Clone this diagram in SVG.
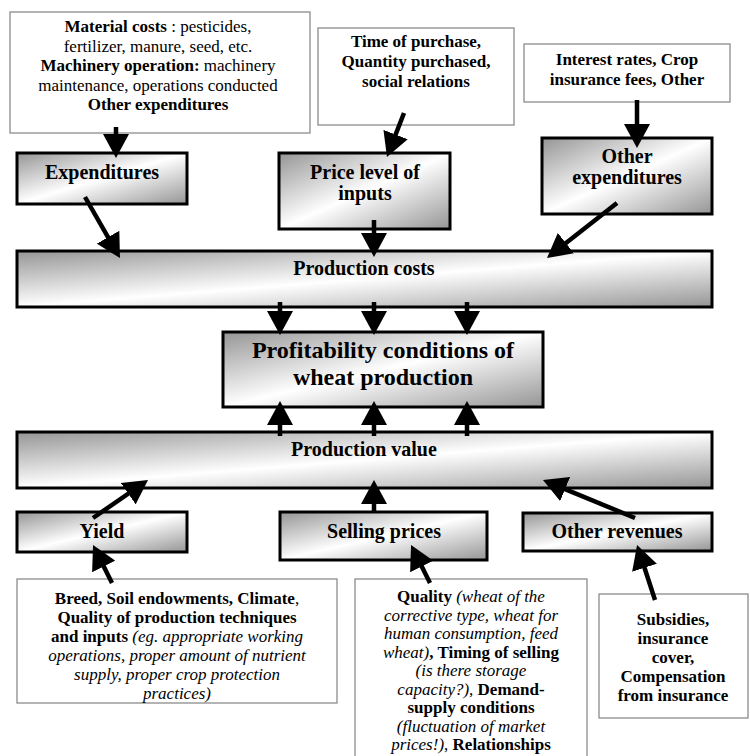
<svg xmlns="http://www.w3.org/2000/svg" width="750" height="756" viewBox="0 0 750 756">
<defs>
<linearGradient id="g" x1="0" y1="0" x2="1" y2="1">
<stop offset="0" stop-color="#959595"/>
<stop offset="0.5" stop-color="#ffffff"/>
<stop offset="1" stop-color="#959595"/>
</linearGradient>
<marker id="ah" markerUnits="userSpaceOnUse" viewBox="0 0 24 26" markerWidth="24" markerHeight="26" refX="10" refY="13" orient="auto">
<path d="M0,0 L24,13 L0,26 z" fill="#000"/>
</marker>
<style>
.box{fill:url(#g);stroke:#000;stroke-width:3}
.note{fill:#fff;stroke:#8c8c8c;stroke-width:1.3}
text{font-family:"Liberation Serif","Times New Roman",serif;text-anchor:middle;fill:#000}
.lbl{font-weight:bold;font-size:20px}
.big{font-weight:bold;font-size:24px}
.t{font-size:17px}
.b{font-weight:bold}
.i{font-style:italic}
.cn line{stroke:#000;stroke-width:4.5;marker-end:url(#ah)}
</style>
</defs>
<rect width="750" height="756" fill="#fff"/>

<g id="note-expenditures">
<rect class="note" x="10" y="12" width="300" height="121"/>
<text class="t" x="158" y="32"><tspan class="b">Material costs</tspan> : pesticides,</text>
<text class="t" x="158" y="51.5">fertilizer, manure, seed, etc.</text>
<text class="t" x="158" y="71"><tspan class="b">Machinery operation:</tspan> machinery</text>
<text class="t" x="158" y="90.5">maintenance, operations conducted</text>
<text class="t b" x="158" y="110">Other expenditures</text>
</g>

<g id="note-price">
<rect class="note" x="318" y="28" width="196" height="97"/>
<text class="t b" x="416" y="47">Time of purchase,</text>
<text class="t b" x="416" y="67">Quantity purchased,</text>
<text class="t b" x="416" y="87">social relations</text>
</g>

<g id="note-other-exp">
<rect class="note" x="524" y="44" width="206" height="58"/>
<text class="t b" x="627" y="65">Interest rates, Crop</text>
<text class="t b" x="627" y="85">insurance fees, Other</text>
</g>

<g id="expenditures">
<rect class="box" x="17" y="153" width="170" height="51"/>
<text class="lbl" x="102" y="179">Expenditures</text>
</g>

<g id="price-level">
<rect class="box" x="279" y="153" width="171" height="76"/>
<text class="lbl" x="365" y="179">Price level of</text>
<text class="lbl" x="365" y="200">inputs</text>
</g>

<g id="other-expenditures">
<rect class="box" x="542" y="138" width="170" height="76"/>
<text class="lbl" x="627" y="163">Other</text>
<text class="lbl" x="627" y="184">expenditures</text>
</g>

<g id="production-costs">
<rect class="box" x="17" y="251" width="695" height="56"/>
<text class="lbl" x="364" y="275">Production costs</text>
</g>

<g id="profitability">
<rect class="box" x="223" y="332" width="320" height="75"/>
<text class="big" x="383" y="358">Profitability conditions of</text>
<text class="big" x="383" y="385">wheat production</text>
</g>

<g id="production-value">
<rect class="box" x="17" y="432" width="695" height="56"/>
<text class="lbl" x="364" y="456">Production value</text>
</g>

<g id="yield">
<rect class="box" x="17" y="512" width="170" height="40"/>
<text class="lbl" x="102" y="538">Yield</text>
</g>

<g id="selling-prices">
<rect class="box" x="280" y="512" width="207" height="48"/>
<text class="lbl" x="384" y="538">Selling prices</text>
</g>

<g id="other-revenues">
<rect class="box" x="523" y="513" width="189" height="38"/>
<text class="lbl" x="617" y="538">Other revenues</text>
</g>

<g id="note-yield">
<rect class="note" x="17" y="579" width="320" height="124"/>
<text class="t" x="177" y="604"><tspan class="b">Breed, Soil endowments, Climate</tspan>,</text>
<text class="t b" x="177" y="623">Quality of production techniques</text>
<text class="t" x="177" y="642"><tspan class="b">and inputs</tspan><tspan class="i"> (eg. appropriate working</tspan></text>
<text class="t i" x="177" y="661">operations, proper amount of nutrient</text>
<text class="t i" x="177" y="680">supply, proper crop protection</text>
<text class="t i" x="177" y="699">practices)</text>
</g>

<g id="note-selling">
<rect class="note" x="355" y="579" width="232" height="190"/>
<text class="t" x="471" y="602"><tspan class="b">Quality</tspan><tspan class="i"> (wheat of the</tspan></text>
<text class="t i" x="471" y="620.5">corrective type, wheat for</text>
<text class="t i" x="471" y="639">human consumption, feed</text>
<text class="t" x="471" y="657.5"><tspan class="i">wheat)</tspan><tspan class="b">, Timing of selling</tspan></text>
<text class="t i" x="471" y="676">(is there storage</text>
<text class="t" x="471" y="694.5"><tspan class="i">capacity?)</tspan>, <tspan class="b">Demand-</tspan></text>
<text class="t b" x="471" y="713">supply conditions</text>
<text class="t i" x="471" y="731.5">(fluctuation of market</text>
<text class="t" x="471" y="750"><tspan class="i">prices!)</tspan>, <tspan class="b">Relationships</tspan></text>
</g>

<g id="note-revenues">
<rect class="note" x="599" y="594" width="149" height="124"/>
<text class="t b" x="673" y="625">Subsidies,</text>
<text class="t b" x="673" y="644">insurance</text>
<text class="t b" x="673" y="663">cover,</text>
<text class="t b" x="673" y="682">Compensation</text>
<text class="t b" x="673" y="701">from insurance</text>
</g>

<g id="connectors" class="cn">
<line x1="116" y1="127" x2="116" y2="144"/>
<line x1="404" y1="113" x2="392" y2="143.9"/>
<line x1="637" y1="100" x2="637" y2="134"/>
<line x1="85" y1="197" x2="113" y2="245.9"/>
<line x1="374" y1="220" x2="374" y2="243"/>
<line x1="617" y1="203" x2="558" y2="249.3"/>
<line x1="280" y1="302" x2="280" y2="321"/>
<line x1="374" y1="302" x2="374" y2="321"/>
<line x1="467" y1="302" x2="467" y2="321"/>
<line x1="280" y1="436" x2="280" y2="415"/>
<line x1="374" y1="436" x2="374" y2="415"/>
<line x1="467" y1="436" x2="467" y2="415"/>
<line x1="93" y1="518" x2="136.5" y2="488"/>
<line x1="374" y1="513" x2="374" y2="494"/>
<line x1="635" y1="518" x2="555.9" y2="485.3"/>
<line x1="112" y1="583" x2="99.3" y2="557.5"/>
<line x1="430" y1="583" x2="417.3" y2="557.5"/>
<line x1="655" y1="600" x2="641.4" y2="558.3"/>
</g>
</svg>
